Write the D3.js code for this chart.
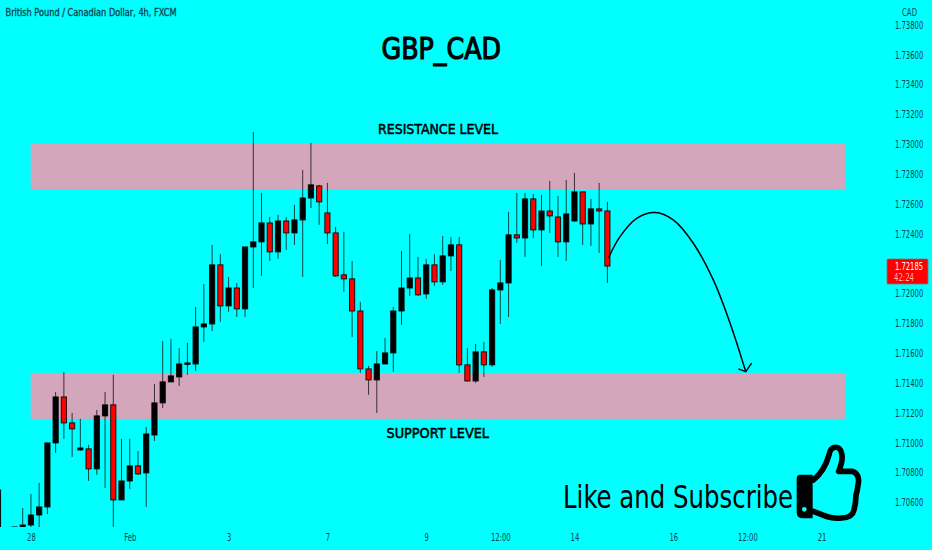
<!DOCTYPE html>
<html><head><meta charset="utf-8">
<script src="https://cdn.jsdelivr.net/npm/d3@7"></script>
<style>
html,body{margin:0;padding:0;background:#00ffff;overflow:hidden}
svg{display:block}
.ax text{font-family:"DejaVu Sans Condensed","DejaVu Sans",sans-serif;font-size:10px;fill:#0b3f4f}
.ann{font-family:"DejaVu Sans Condensed","DejaVu Sans",sans-serif;fill:#000}
</style></head><body>
<script>
// Candle data (index -3 is the partly visible first bar; -2, -1 sit below the pane)
const firstIndex = -3;
const opens = [1.70384,1.7040,1.7034,
1.70437,1.70450,1.70517,1.70571,1.71000,1.71308,1.71134,1.70953,1.70960,1.70826,1.71181,1.71255,1.70618,1.70745,1.70846,1.70799,1.71053,1.71268,1.71409,1.71442,1.71526,
1.71529,1.71777,1.71797,1.72193,1.71918,1.72038,1.71898,1.72313,1.72347,1.72474,1.72280,1.72487,1.72407,1.72494,1.72641,1.72722,1.72541,1.72407,1.72126,1.72099,1.71884,1.71496,
1.71422,1.71529,1.71603,1.71884,1.72038,1.72105,1.71998,1.72193,1.72079,1.72253,1.72327,1.71523,1.71415,1.71610,1.71523,1.72025,1.72072,1.72394,1.72373,1.72635,1.72427,1.72554,1.72514,1.72347,1.72487,1.72682,1.72467,1.72568,1.72554];
const highs = [1.70685,1.7040,1.7040,
1.70564,1.70658,1.70732,1.71000,1.71342,1.71476,1.71201,1.71161,1.70987,1.71221,1.71342,1.71456,1.71027,1.71027,1.70946,1.71107,1.71395,1.71683,1.71697,1.71636,1.71670,
1.71911,1.72065,1.72327,1.72266,1.72112,1.72072,1.72313,1.73084,1.72675,1.72514,1.72528,1.72514,1.72595,1.72829,1.73010,1.72729,1.72742,1.72447,1.72414,1.72219,1.71945,1.71516,
1.71616,1.71703,1.71911,1.72286,1.72400,1.72246,1.72233,1.72266,1.72387,1.72380,1.72380,1.71636,1.71663,1.71677,1.72038,1.72226,1.72548,1.72675,1.72675,1.72668,1.72662,1.72755,1.72655,1.72762,1.72809,1.72682,1.72635,1.72742,1.72615];
const lows = [1.7030,1.7030,1.7030,
1.70417,1.70417,1.70417,1.70524,1.70933,1.71027,1.70906,1.70946,1.70745,1.70786,1.70698,1.70437,1.70618,1.70692,1.70786,1.70571,1.71013,1.71234,1.71406,1.71382,1.71456,
1.71482,1.71677,1.71750,1.71811,1.71878,1.71844,1.71844,1.72038,1.72119,1.72219,1.72233,1.72293,1.72327,1.72112,1.72574,1.72461,1.72333,1.72112,1.72012,1.71710,1.71469,1.71322,
1.71201,1.71526,1.71476,1.71791,1.71985,1.71985,1.71965,1.72052,1.72059,1.72152,1.71469,1.71409,1.71402,1.71442,1.71509,1.71797,1.71844,1.72340,1.72246,1.72373,1.72186,1.72407,1.72246,1.72219,1.72480,1.72327,1.72320,1.72273,1.72072];
const closes = [1.70685,1.7034,1.70437,
1.70450,1.70517,1.70571,1.71000,1.71308,1.71134,1.71094,1.70966,1.70826,1.71181,1.71255,1.70618,1.70745,1.70846,1.70792,1.71060,1.71268,1.71409,1.71449,1.71529,1.71536,
1.71777,1.71797,1.72193,1.71918,1.72038,1.71898,1.72313,1.72347,1.72474,1.72280,1.72487,1.72407,1.72494,1.72641,1.72729,1.72615,1.72407,1.72119,1.72099,1.71884,1.71496,1.71422,
1.71529,1.71603,1.71884,1.72038,1.72105,1.71992,1.72193,1.72079,1.72253,1.72327,1.71523,1.71415,1.71610,1.71523,1.72025,1.72072,1.72394,1.72373,1.72635,1.72427,1.72554,1.72521,1.72347,1.72534,1.72682,1.72467,1.72568,1.72554,1.72185];

const yTicks = [1.738,1.736,1.734,1.732,1.73,1.728,1.726,1.724,1.72,1.718,1.716,1.714,1.712,1.71,1.708,1.706];
const xTickIndex = [1,13,25,37,49,58,67,79,88,97];
const xTickLabels = ["28","Feb","3","7","9","12:00","14","16","12:00","21"];

const zoneStart = 0.97, zoneEnd = 99.85;
const resistanceZone = [1.73006,1.72695];
const supportZone = [1.71469,1.71161];

const arrowIndex = [71.13,72.53,74.56,76.78,79.0,81.43,83.86,85.89,87.8];
const arrowPrice = [1.72239,1.72382,1.72505,1.72543,1.72494,1.72338,1.72092,1.71804,1.71478];
const headIndex = [86.9,87.8,88.52];
const headPrice = [1.71496,1.71478,1.71534];

const lastPrice = "1.72185", countdown = "42:24";

const W=932,H=550;
const svg=d3.select("body").append("svg").attr("width",W).attr("height",H);
svg.append("rect").attr("width",W).attr("height",H).attr("fill","#00ffff");

const x=d3.scaleLinear().domain([0,97]).range([22.7,821.5]);
const y=d3.scaleLinear().domain([1.738,1.706]).range([25,502.6]);

svg.append("clipPath").attr("id","pane").append("rect").attr("x",0).attr("y",0).attr("width",884).attr("height",527);
const pane=svg.append("g").attr("clip-path","url(#pane)");

// zones
[resistanceZone,supportZone].forEach(z=>{
  pane.append("rect").attr("x",x(zoneStart)).attr("width",x(zoneEnd)-x(zoneStart))
    .attr("y",y(z[0])).attr("height",y(z[1])-y(z[0])).attr("fill","#d3a6bc");
});

// candles
const candles=opens.map((o,i)=>({i:i+firstIndex,o,h:highs[i],l:lows[i],c:closes[i]}));
const g=pane.selectAll("g.c").data(candles).join("g").attr("class","c");
g.append("line").attr("x1",d=>x(d.i)).attr("x2",d=>x(d.i)).attr("y1",d=>y(d.h)).attr("y2",d=>y(d.l))
  .attr("stroke","#000").attr("stroke-opacity",.72).attr("stroke-width",1);
g.append("rect").attr("x",d=>x(d.i)-2.6).attr("width",5.2)
  .attr("y",d=>y(Math.max(d.o,d.c))).attr("height",d=>Math.max(.6,Math.abs(y(d.o)-y(d.c))))
  .attr("fill",d=>d.c>=d.o?"#000":"#ff0000").attr("stroke","#000").attr("stroke-opacity",.85).attr("stroke-width",1);

// axes
const narrow=(sel,f)=>sel.each(function(){this.setAttribute("textLength",this.getComputedTextLength()*f);this.setAttribute("lengthAdjust","spacingAndGlyphs");});
const yAxis=d3.axisRight(y).tickValues(yTicks).tickFormat(d3.format(".5f")).tickSize(0).tickPadding(0);
const ya=svg.append("g").attr("class","ax").attr("transform","translate(895,0)").call(yAxis);
ya.select(".domain").remove();
narrow(ya.selectAll("text"),0.76);
const xAxis=d3.axisBottom(x).tickValues(xTickIndex).tickFormat((d,i)=>xTickLabels[i]).tickSize(0).tickPadding(0);
const xa=svg.append("g").attr("class","ax").attr("transform","translate(0,533.5)").call(xAxis);
xa.select(".domain").remove();
narrow(xa.selectAll("text"),0.76);

// title bar
svg.append("text").attr("class","ann").attr("x",5.5).attr("y",15.5).attr("font-size",10.5)
  .attr("stroke","#0b3f4f").attr("stroke-width",.3).style("fill","#0b3f4f").attr("textLength",171).attr("lengthAdjust","spacingAndGlyphs")
  .text("British Pound / Canadian Dollar, 4h, FXCM");
const tagFont='"DejaVu Sans Condensed","DejaVu Sans",sans-serif';
svg.append("text").attr("x",909.5).attr("y",15.5).attr("text-anchor","middle").attr("textLength",15).attr("lengthAdjust","spacingAndGlyphs")
  .style("font-family",tagFont).style("font-size","10px").style("fill","#0b3f4f").text("CAD");

// annotations
function label(t,x0,x1,base,size,sw){
  svg.append("text").attr("class","ann").attr("x",x0).attr("y",base).attr("font-size",size)
    .attr("stroke","#000").attr("stroke-width",sw).attr("textLength",x1-x0).attr("lengthAdjust","spacingAndGlyphs").text(t);
}
label("GBP_CAD",381.5,501,59,30,1.1);
label("RESISTANCE LEVEL",378,498,134,14.5,0.5);
label("SUPPORT LEVEL",386.5,489,438,14.5,0.5);
label("Like and Subscribe",563,793,507.7,32,0);

// arrow
const line=d3.line().x(d=>x(d[0])).y(d=>y(d[1]));
svg.append("path").attr("fill","none").attr("stroke","#000").attr("stroke-width",1.5)
  .attr("d",line.curve(d3.curveCatmullRom)(arrowIndex.map((v,i)=>[v,arrowPrice[i]])));
svg.append("path").attr("fill","none").attr("stroke","#000").attr("stroke-width",1.4)
  .attr("d",d3.line().x(d=>x(d[0])).y(d=>y(d[1]))(headIndex.map((v,i)=>[v,headPrice[i]])));

// last price tag
svg.append("rect").attr("x",887).attr("y",259).attr("width",41).attr("height",25).attr("rx",1)
  .attr("fill","#ff0000").attr("stroke","#9a6a6a").attr("stroke-width",.8);
svg.append("text").attr("x",895).attr("y",269.5).attr("textLength",28).attr("lengthAdjust","spacingAndGlyphs").style("font-family",tagFont).style("font-size","10px").style("fill","#fff").text(lastPrice);
svg.append("text").attr("x",894).attr("y",281).attr("textLength",20).attr("lengthAdjust","spacingAndGlyphs").style("font-family",tagFont).style("font-size","10px").style("fill","#ffb0b0").text(countdown);

// thumbs-up icon
const icon=svg.append("g").attr("transform","translate(780,430) scale(0.3333)");
icon.append("path").attr("fill","#000")
  .attr("d","M60 134 H98 V265 H68 Q50 265 50 247 V146 Q50 134 60 134 Z");
icon.append("circle").attr("cx",73).attr("cy",238).attr("r",7).attr("fill","#00ffff");
icon.append("path").attr("fill","none").attr("stroke","#000").attr("stroke-width",17).attr("stroke-linejoin","round").attr("stroke-linecap","round")
  .attr("d","M100 150 C125 130 140 100 147 75 C152 45 180 45 185 70 C190 90 182 110 176 124 L215 124 C232 128 238 142 235 160 C232 175 233 180 228 195 C228 210 226 225 222 240 C218 258 205 264 185 264 C150 268 130 255 100 244");
</script>
</body></html>
